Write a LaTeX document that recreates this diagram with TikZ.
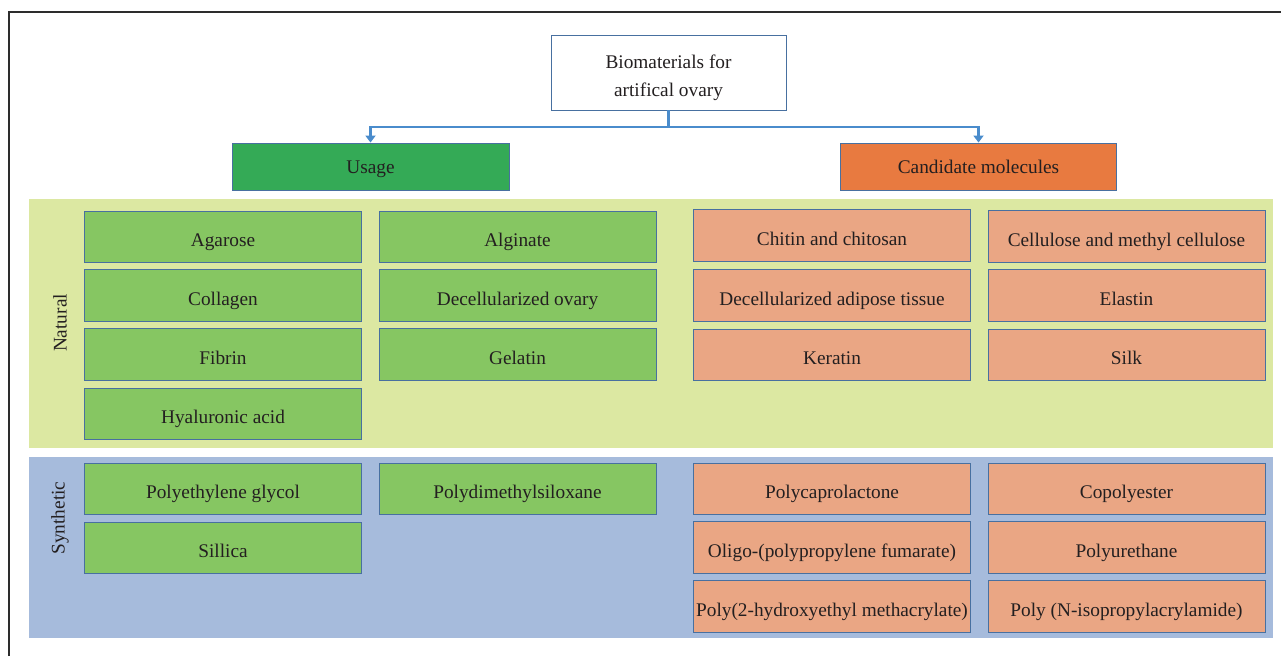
\documentclass[tikz,border=0pt]{standalone}
\usepackage{fontspec}
\setmainfont{Liberation Serif}
\usetikzlibrary{arrows.meta}
\definecolor{framegray}{RGB}{45,45,45}
\definecolor{edgeblue}{RGB}{72,112,160}
\definecolor{flowblue}{RGB}{74,140,204}
\definecolor{usagegreen}{RGB}{52,170,86}
\definecolor{candorange}{RGB}{232,122,64}
\definecolor{itemgreen}{RGB}{134,198,98}
\definecolor{itemorange}{RGB}{234,166,132}
\definecolor{natband}{RGB}{220,232,162}
\definecolor{synband}{RGB}{166,187,220}
\definecolor{inkgray}{RGB}{35,31,32}

\begin{document}
\begin{tikzpicture}[x=1pt,y=-1pt,
    every node/.style={font=\fontsize{19.3}{28}\selectfont, text=inkgray},
    box/.style={draw=edgeblue, line width=0.9pt, minimum width=277pt, minimum height=51.5pt, inner sep=0pt,
        text height=19pt, text depth=0pt},
    greenbox/.style={box, fill=itemgreen},
    orangebox/.style={box, fill=itemorange},
    headbox/.style={box, minimum height=47pt, text height=14pt},
    band/.style={inner sep=0pt, minimum width=1244pt},
    flow/.style={draw=flowblue, line width=2.4pt, -{Triangle[width=10pt,length=7pt]}}]
    \useasboundingbox (0,0) rectangle (1281,656);
    % page frame
    \draw[framegray, line width=1.2pt] (9,656) -- (9,12) -- (1281,12);

    % top of the tree
    \node[draw=edgeblue, line width=0.9pt, fill=white, minimum width=235pt, minimum height=75pt, inner sep=0pt,
        align=center, text height=47pt, text depth=0pt] (root) at (668.5,72.5) {Biomaterials for\\artifical ovary};
    \node[headbox, fill=usagegreen] (usage) at (370.5,166.5) {Usage};
    \node[headbox, fill=candorange, minimum width=276pt] (cand) at (978.5,166.5) {Candidate molecules};
    \coordinate (split) at (668.5,127);
    \draw[flow] (root.south) -- (split) -| (usage.north);
    \draw[flow] (split) -| (cand.north);

    % background bands
    \node[band, fill=natband, minimum height=249pt] (natural) at (651,323.5) {};
    \node[band, fill=synband, minimum height=181.5pt] (synthetic) at (651,547.25) {};
    \node[rotate=90] (natlabel) at (60,323) {Natural};
    \node[rotate=90] (synlabel) at (60,518) {Synthetic};

    % natural, usage
    \node[greenbox] (agarose) at (223,237) {Agarose};
    \node[greenbox] (collagen) at (223,295.5) {Collagen};
    \node[greenbox] (fibrin) at (223,354.5) {Fibrin};
    \node[greenbox] (hyaluronic) at (223,414) {Hyaluronic acid};
    \node[greenbox] (alginate) at (517.5,237) {Alginate};
    \node[greenbox] (decelovary) at (517.5,295.5) {Decellularized ovary};
    \node[greenbox] (gelatin) at (517.5,354.5) {Gelatin};

    % natural, candidates
    \node[orangebox] (chitin) at (832,235.5) {Chitin and chitosan};
    \node[orangebox] (deceladipose) at (832,295.5) {Decellularized adipose tissue};
    \node[orangebox] (keratin) at (832,355) {Keratin};
    \node[orangebox] (cellulose) at (1126.5,236.5) {Cellulose and methyl cellulose};
    \node[orangebox] (elastin) at (1126.5,295.5) {Elastin};
    \node[orangebox] (silk) at (1126.5,355) {Silk};

    % synthetic, usage
    \node[greenbox] (peg) at (223,489) {Polyethylene glycol};
    \node[greenbox] (sillica) at (223,548) {Sillica};
    \node[greenbox] (pdms) at (517.5,489) {Polydimethylsiloxane};

    % synthetic, candidates
    \node[orangebox] (pcl) at (832,489) {Polycaprolactone};
    \node[orangebox] (opf) at (832,547.5) {Oligo-(polypropylene fumarate)};
    \node[orangebox] (phema) at (832,606.5) {Poly(2-hydroxyethyl methacrylate)};
    \node[orangebox] (copoly) at (1126.5,489) {Copolyester};
    \node[orangebox] (pu) at (1126.5,547.5) {Polyurethane};
    \node[orangebox] (pnipam) at (1126.5,606.5) {Poly (N-isopropylacrylamide)};
\end{tikzpicture}
\end{document}
